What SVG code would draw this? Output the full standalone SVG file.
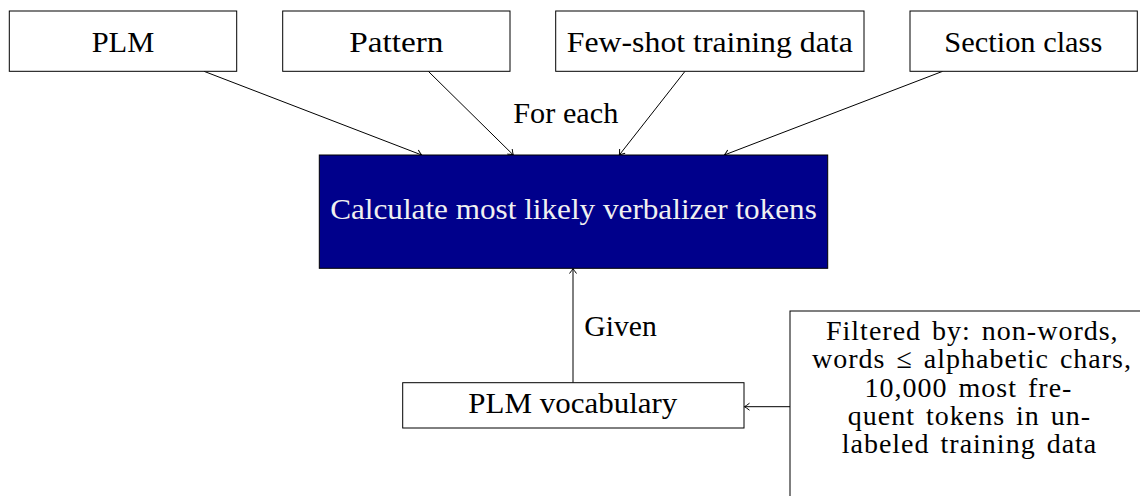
<svg xmlns="http://www.w3.org/2000/svg" width="1140" height="496" viewBox="0 0 1140 496">
<style>
.box{fill:#fff;stroke:#000;stroke-width:1}
.t{font-family:'Liberation Serif','Times New Roman',serif;font-size:29px;fill:#000}
.tw{font-family:'Liberation Serif','Times New Roman',serif;font-size:29px;fill:#f0f0f0}
.f{font-family:'Liberation Serif','Times New Roman',serif;font-size:28px;fill:#000;letter-spacing:1px;word-spacing:3px}
.edge{stroke:#000;stroke-width:1;fill:none;marker-end:url(#to)}
</style>
<defs>
<marker id="to" markerUnits="userSpaceOnUse" markerWidth="12" markerHeight="12" viewBox="-6 -6 12 12" refX="0" refY="0" orient="auto" overflow="visible">
<path d="M -5 -3.5 Q -1.5 -0.8 0 0 Q -1.5 0.8 -5 3.5" stroke="#000" stroke-width="1" fill="none"/>
</marker>
</defs>
<rect width="1140" height="496" fill="#fff"/>
<g id="connectors">
<line class="edge" x1="204" y1="71.3" x2="421.7" y2="155"/>
<line class="edge" x1="428.3" y1="71.3" x2="513.3" y2="155"/>
<line class="edge" x1="685" y1="71.3" x2="619.3" y2="155"/>
<line class="edge" x1="942.7" y1="71.3" x2="724.3" y2="155"/>
<line class="edge" x1="573" y1="382.7" x2="573" y2="268.5"/>
<line class="edge" x1="790" y1="406.7" x2="744.5" y2="406.7"/>
<text class="t" x="513.3" y="123.3" textLength="105" lengthAdjust="spacingAndGlyphs">For each</text>
<text class="t" x="584.3" y="336" textLength="72.4" lengthAdjust="spacingAndGlyphs">Given</text>
</g>
<g id="plm">
<rect class="box" x="9.3" y="11" width="227.4" height="60.3"/>
<text class="t" x="123" y="51.7" text-anchor="middle" textLength="62.6" lengthAdjust="spacingAndGlyphs">PLM</text>
</g>
<g id="pattern">
<rect class="box" x="282.7" y="11" width="227.3" height="60.3"/>
<text class="t" x="396.3" y="51.7" text-anchor="middle" textLength="94.3" lengthAdjust="spacingAndGlyphs">Pattern</text>
</g>
<g id="fewshot">
<rect class="box" x="555.7" y="11" width="308.3" height="60.3"/>
<text class="t" x="709.8" y="51.7" text-anchor="middle" textLength="286" lengthAdjust="spacingAndGlyphs">Few-shot training data</text>
</g>
<g id="section">
<rect class="box" x="910" y="11" width="227.3" height="60.3"/>
<text class="t" x="1023.3" y="51.7" text-anchor="middle" textLength="158" lengthAdjust="spacingAndGlyphs">Section class</text>
</g>
<g id="calc">
<rect x="319.3" y="155" width="508.4" height="113.3" fill="#00008b" stroke="#000" stroke-width="1"/>
<text class="tw" x="573.5" y="219" text-anchor="middle" textLength="486.7" lengthAdjust="spacingAndGlyphs">Calculate most likely verbalizer tokens</text>
</g>
<g id="vocab">
<rect class="box" x="402.7" y="382.7" width="341.3" height="45.3"/>
<text class="t" x="572.8" y="413.3" text-anchor="middle" textLength="209" lengthAdjust="spacingAndGlyphs">PLM vocabulary</text>
</g>
<g id="filter">
<rect class="box" x="790" y="311" width="360" height="200"/>
<text class="f" x="972.3" y="340" text-anchor="middle">Filtered by: non-words,</text>
<text class="f" x="972" y="368.3" text-anchor="middle">words ≤ alphabetic chars,</text>
<text class="f" x="968.5" y="396.7" text-anchor="middle">10,000 most fre-</text>
<text class="f" x="969.5" y="425" text-anchor="middle">quent tokens in un-</text>
<text class="f" x="969.5" y="453.3" text-anchor="middle">labeled training data</text>
</g>
</svg>
